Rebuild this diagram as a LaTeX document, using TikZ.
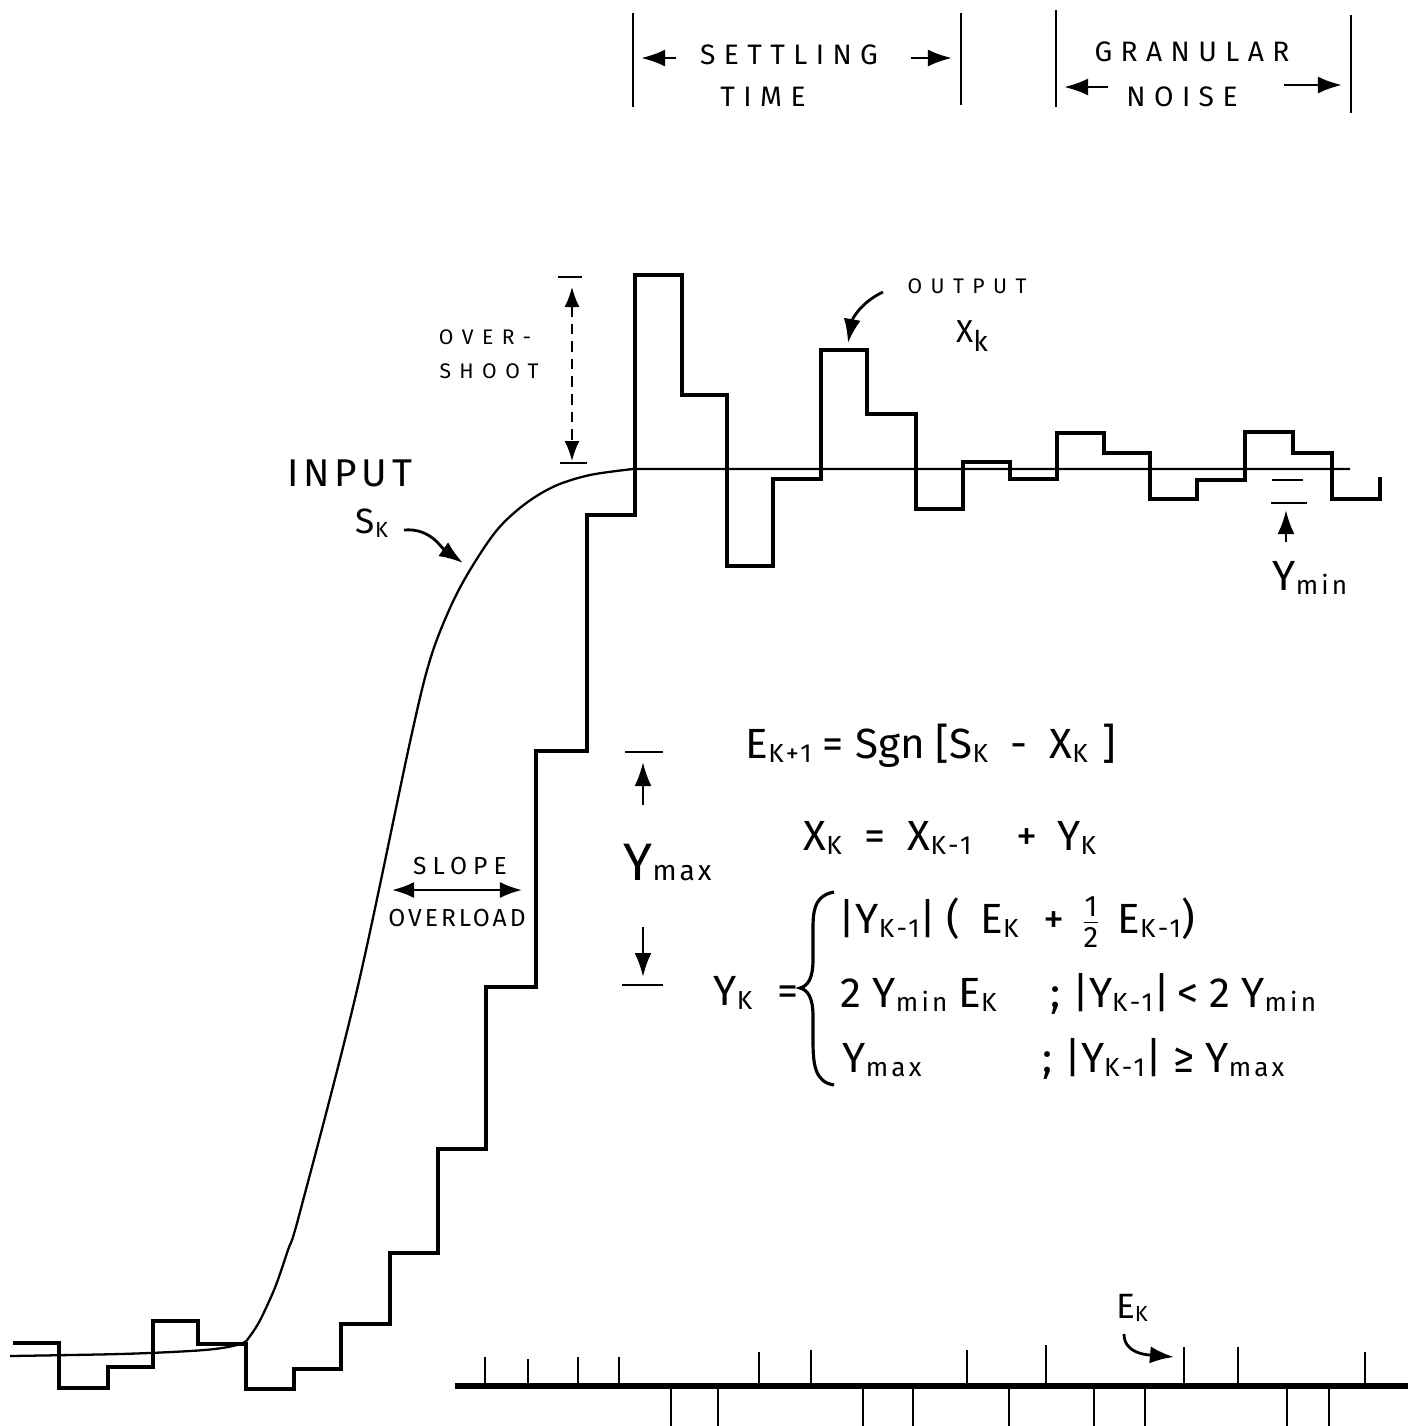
\documentclass[tikz,border=0pt]{standalone}
\usepackage{fontspec}
\setmainfont{Fira Sans}
\usepackage{graphicx}
\usetikzlibrary{arrows.meta}
\newcommand{\ksub}[1]{\raisebox{-0.2ex}{\scalebox{0.62}{\addfontfeatures{LetterSpace=12}#1}}}
\newcommand{\halfof}{\ensuremath{\frac{\mbox{\scalebox{0.7}{1}}}{\mbox{\scalebox{0.7}{2}}}}}

\begin{document}
\begin{tikzpicture}[x=0.01cm, y=-0.01cm, every node/.style={inner sep=0pt},
  stair/.style={line width=0.9pt, line join=miter},
  arr/.style={-{Latex[length=2.4mm,width=1.7mm]}, line width=0.8pt},
  bar/.style={line width=0.8pt},
  caps/.style={font=\fontsize{8}{9}\selectfont\addfontfeatures{LetterSpace=30}},
  small/.style={font=\fontsize{6}{7}\selectfont\addfontfeatures{LetterSpace=40}},
  eq/.style={font=\fontsize{12}{14}\selectfont, anchor=base west}]
\useasboundingbox[fill=white] (0,0) rectangle (1420,1426);

% output staircase X_k
\draw[stair] (13,1343) -| (59,1388) -| (108,1367) -| (153,1321) -| (198,1344)
  -| (246,1389) -| (294,1369) -| (341,1324) -| (390,1253) -| (438,1149)
  -| (486,987) -| (536,751) -| (587,515) -| (635,275) -| (682,395)
  -| (727,566) -| (773,479) -| (821,350) -| (867,414) -| (916,509)
  -| (963,462) -| (1010,479) -| (1057,433) -| (1104,453) -| (1150,499)
  -| (1197,480) -| (1245,432) -| (1293,453) -| (1332,499) -| (1380,477);

% input S_k
\draw[line width=0.65pt] plot[smooth, tension=0.55] coordinates {(10,1356) (120,1354) (190,1351)
  (222,1348) (243,1343) (250,1336) (258,1324) (266,1308) (276,1285) (288,1250)
  (300,1212) (357,990) (410,742) (430,660) (450,608)
  (470,570) (497,530) (525,504) (555,486) (590,475) (633,469)} -- (1350,469);

% settling time / granular noise
\draw[bar] (633,13) -- (633,107);
\draw[bar] (961,13) -- (961,105);
\draw[bar] (1056,10) -- (1056,107);
\draw[bar] (1351,15) -- (1351,113);
\node[caps] (settling) at (789,55) {SETTLING};
\node[caps] (time) at (763,97) {TIME};
\node[caps] (granular) at (1192,52) {GRANULAR};
\node[caps] (noise) at (1182,97) {NOISE};
\coordinate (stA) at (676,58); \coordinate (stB) at (641,58);
\coordinate (stC) at (911,58); \coordinate (stD) at (952,58);
\coordinate (gnA) at (1108,87); \coordinate (gnB) at (1064,87);
\coordinate (gnC) at (1284,85); \coordinate (gnD) at (1342,85);
\draw[arr] (stA) -- (stB);
\draw[arr] (stC) -- (stD);
\draw[arr] (gnA) -- (gnB);
\draw[arr] (gnC) -- (gnD);

% overshoot
\draw[bar] (558,277) -- (582,277);
\draw[bar] (560,463) -- (587,463);
\node[small] (over) at (485,337) {OVER-};
\node[small] (shoot) at (489,371) {SHOOT};
\coordinate (osT) at (572,287); \coordinate (osB) at (572,461);
\draw[{Latex[length=2mm,width=1.5mm]}-{Latex[length=2mm,width=1.5mm]}, line width=0.5pt, densely dashed] (osT) -- (osB);

% input label
\node[font=\fontsize{11}{12}\selectfont\addfontfeatures{LetterSpace=12}] (input) at (350,473) {INPUT};
\node[font=\fontsize{10}{12}\selectfont] (sk) at (372,523) {S\ksub{K}};
\coordinate (skf) at (404,530); \coordinate (skt) at (463,563);
\draw[arr] (skf) to[out=5, in=145] (skt);

% output label
\node[small] (output) at (967,286) {OUTPUT};
\node[font=\fontsize{9}{10}\selectfont] (xk) at (972,336) {X\raisebox{-0.5ex}{\scalebox{0.9}{k}}};
\coordinate (oA) at (883,292); \coordinate (oB) at (848,343);
\draw[arr] (oA) to[out=205, in=80] (oB);

% slope overload
\node[font=\fontsize{7}{8}\selectfont\addfontfeatures{LetterSpace=25}] (slope) at (460,866) {SLOPE};
\node[font=\fontsize{7}{8}\selectfont\addfontfeatures{LetterSpace=12}] (overload) at (457,918) {OVERLOAD};
\coordinate (slL) at (392,890); \coordinate (slR) at (522,890);
\draw[{Latex[length=2.2mm,width=1.6mm]}-{Latex[length=2.2mm,width=1.6mm]}, line width=0.7pt] (slL) -- (slR);

% Ymax step
\draw[bar] (625,752) -- (663,752);
\draw[bar] (622,985) -- (663,985);
\coordinate (ymA) at (643,805); \coordinate (ymB) at (643,762);
\coordinate (ymC) at (643,927); \coordinate (ymD) at (643,977);
\draw[arr] (ymA) -- (ymB);
\draw[arr] (ymC) -- (ymD);
\node[anchor=base west] (ymax) at (623,880) {{\fontsize{15}{15}\selectfont Y}{\fontsize{8}{8}\selectfont\addfontfeatures{LetterSpace=10}max}};

% Ymin step
\draw[bar] (1272,480) -- (1303,480);
\draw[bar] (1271,503) -- (1307,503);
\coordinate (ynA) at (1286,542); \coordinate (ynB) at (1286,510);
\draw[arr] (ynA) -- (ynB);
\node[font=\fontsize{12}{14}\selectfont] (ymin) at (1310,578) {Y\ksub{min}};

% equations
\node[eq] (eq1) at (745,758) {E\ksub{K+1} = Sgn [S\ksub{K} \ - \ X\ksub{K}\hspace{1.5mm}]};
\node[eq] (eq2) at (803,850) {X\ksub{K}\ \ =\ \ X\ksub{K-1}\hspace{4.5mm}+\hspace{2mm}Y\ksub{K}};
\node[eq] (yk) at (713,1005) {Y\ksub{K}\hspace{2.5mm}=};
\draw[line width=0.9pt] (834,892) .. controls (812,896) and (813,915) .. (813,935)
  -- (813,960) .. controls (813,978) and (808,986) .. (800,988)
  .. controls (808,990) and (813,998) .. (813,1016) -- (813,1040)
  .. controls (813,1065) and (815,1082) .. (834,1085);
\node[eq] (case1) at (838,933) {|Y\ksub{K-1}|\hspace{1mm}(\hspace{2mm}E\ksub{K}\hspace{2.5mm}+\hspace{1.5mm}\halfof\hspace{1.5mm}E\ksub{K-1})};
\node[eq] (case2) at (840,1007) {2\ Y\ksub{min}\ E\ksub{K}};
\node[eq] (cond2) at (1050,1007) {;\ |Y\ksub{K-1}|\,<\ 2\ Y\ksub{min}};
\node[eq] (case3) at (842,1072) {Y\ksub{max}};
\node[eq] (cond3) at (1042,1072) {;\ |Y\ksub{K-1}|\ ≥\ Y\ksub{max}};

% E_k train
\draw[line width=1.8pt] (455,1386) -- (1408,1386);
\foreach \x/\t in {485/1357, 528/1359, 578/1357, 619/1357, 759/1352, 811/1350,
  967/1350, 1046/1345, 1184/1347, 1238/1347, 1365/1352}
  \draw[line width=0.8pt] (\x,1386) -- (\x,\t);
\foreach \x in {671, 718, 863, 913, 1009, 1094, 1145, 1287, 1329}
  \draw[line width=0.8pt] (\x,1386) -- (\x,1426);
\node[font=\fontsize{10}{12}\selectfont] (ek) at (1132,1308) {E\ksub{K}};
\coordinate (ekA) at (1124,1334); \coordinate (ekB) at (1174,1357);
\draw[arr] (ekA) to[out=-90, in=175] (ekB);
\end{tikzpicture}
\end{document}
